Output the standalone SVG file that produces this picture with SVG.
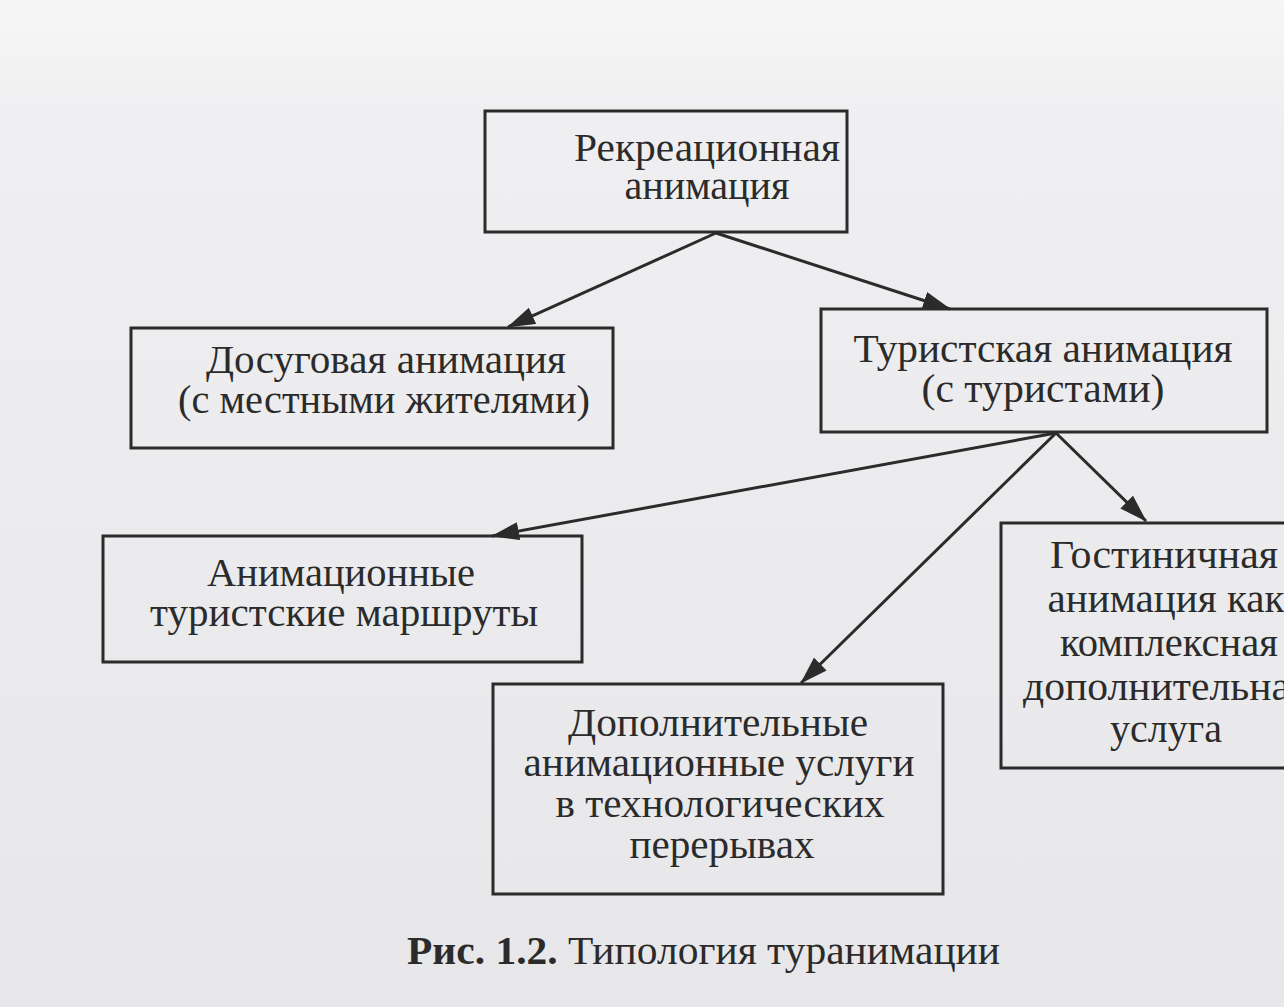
<svg xmlns="http://www.w3.org/2000/svg" width="1284" height="1007" viewBox="0 0 1284 1007">
<style>
.box{fill:none;stroke:#2b2b2b;stroke-width:3}
.t{font-family:"Liberation Serif","Times New Roman",serif;font-size:39px;fill:#2b2b2b;text-anchor:middle}
.c{stroke:#2b2b2b;stroke-width:3;fill:none}
</style>
<defs>
<marker id="ah" markerWidth="28" markerHeight="18" refX="27" refY="9" orient="auto" markerUnits="userSpaceOnUse">
<path d="M0,0 L28,9 L0,18 Z" fill="#2b2b2b"/>
</marker>
<linearGradient id="bg" x1="0" y1="0" x2="0" y2="1">
<stop offset="0" stop-color="#f6f6f7"/>
<stop offset="0.12" stop-color="#efeff1"/>
<stop offset="1" stop-color="#e7e7ea"/>
</linearGradient>
</defs>
<rect x="0" y="0" width="1284" height="1007" fill="url(#bg)"/>
<g id="connectors">
<line class="c" x1="716" y1="233" x2="508" y2="327" marker-end="url(#ah)"/>
<line class="c" x1="716" y1="233" x2="950" y2="309" marker-end="url(#ah)"/>
<line class="c" x1="1056" y1="433" x2="492" y2="536" marker-end="url(#ah)"/>
<line class="c" x1="1056" y1="433" x2="1146" y2="521" marker-end="url(#ah)"/>
<line class="c" x1="1056" y1="433" x2="801" y2="683" marker-end="url(#ah)"/>
</g>
<g id="n-recreational">
<rect class="box" x="485" y="111" width="362" height="121"/>
<text class="t" x="707" y="161" textLength="266" lengthAdjust="spacingAndGlyphs">Рекреационная</text>
<text class="t" x="707" y="199" textLength="165" lengthAdjust="spacingAndGlyphs">анимация</text>
</g>
<g id="n-leisure">
<rect class="box" x="131" y="328" width="482" height="120"/>
<text class="t" x="386" y="373" textLength="360" lengthAdjust="spacingAndGlyphs">Досуговая анимация</text>
<text class="t" x="384" y="413" textLength="412" lengthAdjust="spacingAndGlyphs">(с местными жителями)</text>
</g>
<g id="n-tourist">
<rect class="box" x="821" y="309" width="446" height="123"/>
<text class="t" x="1043" y="362" textLength="379" lengthAdjust="spacingAndGlyphs">Туристская анимация</text>
<text class="t" x="1043" y="402" textLength="243" lengthAdjust="spacingAndGlyphs">(с туристами)</text>
</g>
<g id="n-routes">
<rect class="box" x="103" y="536" width="479" height="126"/>
<text class="t" x="341" y="586" textLength="268" lengthAdjust="spacingAndGlyphs">Анимационные</text>
<text class="t" x="344" y="626" textLength="388" lengthAdjust="spacingAndGlyphs">туристские маршруты</text>
</g>
<g id="n-hotel">
<rect class="box" x="1001" y="523" width="300" height="245"/>
<text class="t" x="1164" y="568" textLength="228" lengthAdjust="spacingAndGlyphs">Гостиничная</text>
<text class="t" x="1166" y="612" textLength="237" lengthAdjust="spacingAndGlyphs">анимация как</text>
<text class="t" x="1169" y="656" textLength="218" lengthAdjust="spacingAndGlyphs">комплексная</text>
<text class="t" x="1166" y="700" textLength="286" lengthAdjust="spacingAndGlyphs">дополнительная</text>
<text class="t" x="1166" y="742" textLength="112" lengthAdjust="spacingAndGlyphs">услуга</text>
</g>
<g id="n-extra">
<rect class="box" x="493" y="684" width="450" height="210"/>
<text class="t" x="718" y="736" textLength="300" lengthAdjust="spacingAndGlyphs">Дополнительные</text>
<text class="t" x="719" y="776" textLength="391" lengthAdjust="spacingAndGlyphs">анимационные услуги</text>
<text class="t" x="720" y="817" textLength="329" lengthAdjust="spacingAndGlyphs">в технологических</text>
<text class="t" x="722" y="858" textLength="185" lengthAdjust="spacingAndGlyphs">перерывах</text>
</g>
<g id="caption">
<text class="t" x="407" y="964" style="text-anchor:start" textLength="593" lengthAdjust="spacingAndGlyphs"><tspan font-weight="bold">Рис. 1.2.</tspan> Типология туранимации</text>
</g>
</svg>
